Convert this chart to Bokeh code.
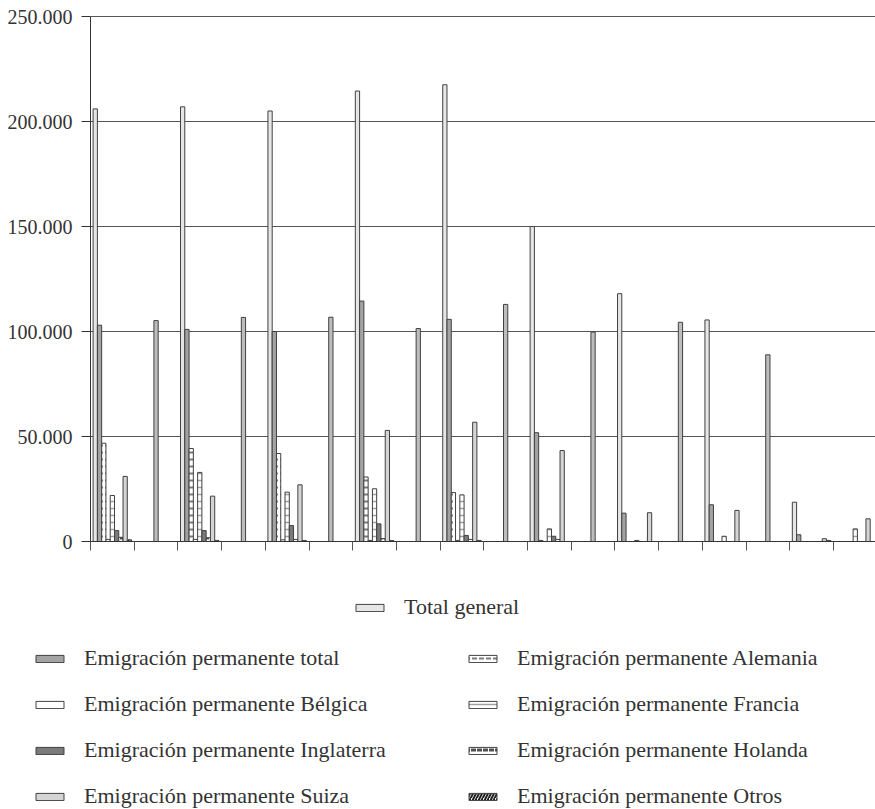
from bokeh.plotting import figure
from bokeh.models import Range1d, FixedTicker, Legend, LegendItem, ColumnDataSource
from bokeh.embed import file_html
from bokeh.resources import INLINE

# 18 categories (no labels shown on the x axis)
categorias = list(range(18))

total_general = [206000, 0, 207000, 0, 205000, 0, 214500, 0, 217500, 0, 150000, 0, 118000, 0, 105500, 0, 18700, 0]
emig_total    = [103000, 0, 101000, 0, 100000, 0, 114500, 0, 105800, 0, 51800, 0, 13500, 0, 17500, 0, 3200, 0]
alemania      = [46800, 0, 44300, 0, 41900, 0, 30700, 0, 23300, 0, 500, 0, 0, 0, 0, 0, 0, 0]
belgica       = [1000, 0, 1000, 0, 800, 0, 500, 0, 500, 0, 0, 0, 0, 0, 0, 0, 0, 0]
francia       = [21900, 0, 32900, 0, 23500, 0, 25100, 0, 22200, 0, 6000, 0, 500, 0, 2500, 0, 0, 6000]
inglaterra    = [5200, 0, 5200, 0, 7600, 0, 8400, 0, 2900, 0, 2500, 0, 0, 0, 0, 0, 0, 0]
holanda       = [2000, 0, 1800, 0, 1000, 0, 1400, 0, 1000, 0, 1000, 0, 0, 0, 0, 0, 0, 0]
suiza         = [31000, 0, 21600, 0, 27000, 0, 52900, 0, 56800, 0, 43300, 0, 13700, 0, 14800, 0, 1300, 10800]
otros         = [800, 0, 500, 0, 500, 0, 500, 0, 500, 0, 0, 0, 0, 0, 0, 0, 500, 0]
# bars without a legend entry, drawn in the fifth slot of the even categories
sin_leyenda   = [0, 105200, 0, 106700, 0, 106800, 0, 101400, 0, 112900, 0, 99700, 0, 104400, 0, 88900, 0, 0]

y_ticks = [0, 50000, 100000, 150000, 200000, 250000]
y_labels = ["0", "50.000", "100.000", "150.000", "200.000", "250.000"]

FONT = "Liberation Serif"
TXT = "#333333"
LINE = "#404040"

W, H = 875, 809
PLOT_L, PLOT_T, PLOT_B = 90, 16, 541        # pixel edges of the plotting area
CAT_PX = 43.7                               # width of one category in pixels
Y_MAX = 250000
ppu = (PLOT_B - PLOT_T) / Y_MAX
x_end = (W - PLOT_L) / CAT_PX
x_range = Range1d(-PLOT_L / CAT_PX, x_end)
y_range = Range1d(-(H - PLOT_B) / ppu, Y_MAX + PLOT_T / ppu)

p = figure(width=W, height=H, output_backend="svg", toolbar_location=None,
           x_range=x_range, y_range=y_range,
           min_border_left=0, min_border_right=0, min_border_top=0, min_border_bottom=0)
p.outline_line_color = None
p.background_fill_color = "white"
p.border_fill_color = "white"
p.xgrid.visible = False
p.ygrid.visible = False

# horizontal grid lines (only over the plotting area)
grid_y = y_ticks[1:]
p.segment(x0=[0] * len(grid_y), x1=[x_end] * len(grid_y), y0=grid_y, y1=grid_y,
          line_color="#555555", line_width=1)

slot_w = 0.88 / 9
gap = 0.06

def add_series(vals, slot, **style):
    xs, tops = [], []
    for c, v in zip(categorias, vals):
        if v > 0:
            xs.append(c + gap + (slot + 0.5) * slot_w)
            tops.append(v)
    src = ColumnDataSource(dict(x=xs, top=tops))
    return p.vbar(x="x", top="top", width=slot_w, source=src, line_color=LINE, line_width=1, **style)

r_tg = add_series(total_general, 0, fill_color="#e6e6e6")
r_tot = add_series(emig_total, 1, fill_color="#a3a3a3")
r_ale = add_series(alemania, 2, fill_color="white", hatch_pattern="horizontal_dash",
                   hatch_color="#7a7a7a", hatch_scale=7, hatch_weight=2)
r_bel = add_series(belgica, 3, fill_color="white")
r_fra = add_series(francia, 4, fill_color="white", hatch_pattern="horizontal_line",
                   hatch_color="#a0a0a0", hatch_scale=7, hatch_weight=1.5)
r_ing = add_series(inglaterra, 5, fill_color="#7a7a7a")
r_hol = add_series(holanda, 6, fill_color="white", hatch_pattern="horizontal_dash",
                   hatch_color="#505050", hatch_scale=6, hatch_weight=3)
r_sui = add_series(suiza, 7, fill_color="#d4d4d4")
r_otr = add_series(otros, 8, fill_color="white", hatch_pattern="right_diagonal_line",
                   hatch_color="#222222", hatch_scale=6, hatch_weight=2)
r_sin = add_series(sin_leyenda, 4, fill_color="#bdbdbd")

# axes, placed inside the frame at x=0 / y=0
yax = p.yaxis[0]
yax.fixed_location = 0
yax.bounds = (0, Y_MAX)
yax.ticker = FixedTicker(ticks=y_ticks)
yax.major_label_overrides = {t: l for t, l in zip(y_ticks, y_labels)}
yax.minor_tick_line_color = None
yax.major_tick_in = 0
yax.major_tick_out = 9
yax.major_label_standoff = 9
yax.axis_line_color = "#333333"
yax.major_tick_line_color = "#333333"
yax.major_label_text_font = FONT
yax.major_label_text_font_size = "20px"
yax.major_label_text_color = TXT

xax = p.xaxis[0]
xax.fixed_location = 0
xax.bounds = (0, x_end)
xax.ticker = FixedTicker(ticks=list(range(19)))
xax.major_label_overrides = {i: "" for i in range(19)}
xax.major_label_text_font_size = "0px"
xax.minor_tick_line_color = None
xax.major_tick_in = 0
xax.major_tick_out = 9
xax.axis_line_color = "#333333"
xax.major_tick_line_color = "#555555"

def make_legend(items, loc):
    lg = Legend(items=items, location=loc, orientation="vertical",
                label_text_font=FONT, label_text_font_size="22px", label_text_color=TXT,
                glyph_width=35, glyph_height=9, label_standoff=17, label_height=25,
                spacing=20, padding=0, margin=0, border_line_color=None,
                background_fill_alpha=0)
    p.add_layout(lg, "center")
    return lg

make_legend([LegendItem(label="Total general", renderers=[r_tg])], (352, 189))
make_legend([
    LegendItem(label="Emigración permanente total", renderers=[r_tot]),
    LegendItem(label="Emigración permanente Bélgica", renderers=[r_bel]),
    LegendItem(label="Emigración permanente Inglaterra", renderers=[r_ing]),
    LegendItem(label="Emigración permanente Suiza", renderers=[r_sui]),
], (32, 0))
make_legend([
    LegendItem(label="Emigración permanente Alemania", renderers=[r_ale]),
    LegendItem(label="Emigración permanente Francia", renderers=[r_fra]),
    LegendItem(label="Emigración permanente Holanda", renderers=[r_hol]),
    LegendItem(label="Emigración permanente Otros", renderers=[r_otr]),
], (465, 0))

open("out.html", "w").write(file_html(p, INLINE))
